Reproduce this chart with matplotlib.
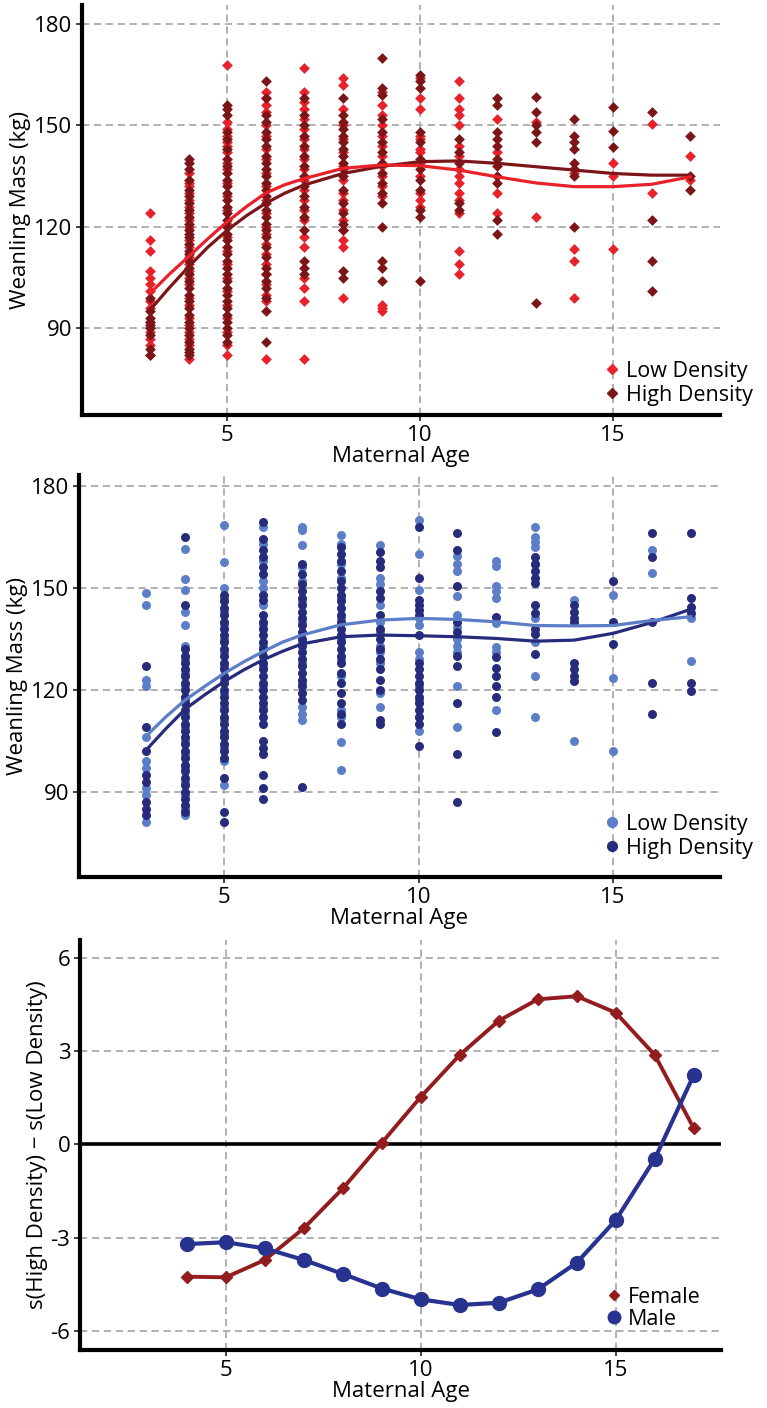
import matplotlib
matplotlib.use('Agg')
import matplotlib.pyplot as plt
from matplotlib.lines import Line2D

plt.rcParams['font.family'] = ['Open Sans', 'DejaVu Sans']
plt.rcParams['axes.unicode_minus'] = False

# ---- panel 1: females, weanling mass by maternal age ----
ages = list(range(3, 18))

fem_low = {
    3: [124, 116, 113, 107, 105, 103, 101, 98, 96, 92, 89, 87, 85, 82],
    4: [136, 133, 132, 130, 128, 126, 124, 122, 120, 116, 114, 111, 109, 107, 105, 103, 99, 97, 93, 91, 89, 87, 85, 81],
    5: [168, 151, 149, 147, 145, 144, 142, 139, 137, 133, 129, 125, 121, 117, 113, 109, 105, 101, 97, 93, 89, 85, 82],
    6: [160, 158, 156, 154, 150, 147, 143, 140, 136, 132, 128, 124, 120, 118, 115, 112, 109, 106, 103, 100, 98, 81],
    7: [167, 160, 157, 155, 152, 149, 146, 143, 140, 137, 134, 131, 128, 125, 122, 117, 114, 105, 102, 98, 81],
    8: [164, 162, 155, 150, 146, 142, 138, 134, 130, 128, 125, 122, 119, 116, 114, 99],
    9: [160, 156, 153, 150, 147, 144, 141, 138, 135, 132, 129, 97, 96, 95],
    10: [164, 158, 155, 147, 146, 143, 142, 139, 135, 130, 128, 126],
    11: [163, 158, 155, 153, 150, 144, 141, 137, 135, 133, 130, 128, 124, 113, 109, 106],
    12: [152, 142, 130, 124],
    13: [151, 123],
    14: [137, 136, 113.5, 110, 99],
    15: [139, 135, 113.5],
    16: [150.5, 130],
    17: [141, 134],
}
fem_high = {
    3: [99, 95, 93, 92, 91, 90, 88, 84, 82],
    4: [140, 139, 137, 134, 131, 129, 127, 125, 123, 121, 119, 118, 117, 115, 113, 112, 110, 108, 106, 104, 102, 100, 98, 96, 94, 92, 90, 88, 86, 84, 83, 82],
    5: [156, 155, 153, 148, 146, 143, 140, 138, 136, 134, 132, 130, 128, 126, 124, 122, 120, 118, 116, 114, 112, 110, 108, 106, 104, 102, 100, 98, 96, 94, 92, 90, 88, 86],
    6: [163, 158, 153, 151, 148, 146, 144, 141, 139, 137, 135, 133, 131, 129, 127, 125, 123, 121, 119, 117, 114, 111, 108, 106, 104, 102, 99, 95, 86],
    7: [158, 153, 150, 147, 144, 141, 138, 135, 132, 129, 126, 123, 119, 110, 108, 106],
    8: [158, 153, 151, 149, 147, 145, 143, 141, 139, 137, 135, 131, 127, 124, 121, 119, 107, 105],
    9: [170, 161, 159, 152, 148, 145, 142, 139, 136, 133, 130, 127, 120, 110, 108, 104],
    10: [165, 163, 161, 148, 145, 140, 137, 134, 131, 125, 123, 104],
    11: [146, 142, 139, 127, 125],
    12: [158, 156, 148, 146, 144, 140, 138, 135, 133, 122, 118],
    13: [158.5, 154, 150, 148, 145, 97.5],
    14: [152, 147, 145, 143, 139, 137, 135, 120],
    15: [155.5, 148.5, 143.5],
    16: [154, 122, 110, 101],
    17: [147, 135, 131],
}

# fitted curves (read at half-year steps early, yearly later)
fit_age = [3, 3.5, 4, 4.5, 5, 5.5, 6, 6.5, 7, 8, 9, 10, 11, 12, 13, 14, 15, 16, 17]
fem_low_fit = [100.3, 106, 111.2, 116.5, 121.5, 126, 130, 132.5, 134.3, 137.3, 138.3, 138.1, 136.8, 134.8, 133, 131.9, 131.9, 132.6, 134.8]
fem_high_fit = [95.4, 102, 108.2, 114, 119, 123.3, 127, 130, 132.4, 135.8, 137.9, 139.3, 139.5, 138.8, 137.8, 136.8, 135.8, 135.3, 135.3]

# ---- panel 2: males ----
male_low = {
    3: [148.5, 145, 123, 121, 106, 99, 97, 91, 89, 81],
    4: [161.5, 152.5, 149.5, 143, 139, 133, 129, 125, 121, 117, 113, 109, 105, 101, 97, 93, 89, 85, 83],
    5: [168.5, 157.5, 150, 147, 143, 139, 135, 131, 127, 123, 119, 115, 111, 107, 103, 99, 92],
    6: [168, 163, 158, 152, 150, 145, 139, 133, 127, 121, 115],
    7: [168, 167, 162.5, 156, 152, 146, 140, 134, 128, 122, 115, 113, 111],
    8: [165.5, 163, 157, 153, 147, 141, 135, 129, 124, 114, 112, 104.5, 96.5],
    9: [162.5, 153, 151, 145, 140, 137, 133, 131, 128, 119, 115],
    10: [170, 160, 149.5, 141, 139, 131, 129, 121, 117, 112, 108],
    11: [159.5, 157, 155, 147.5, 142, 138.5, 135, 133, 131, 121, 109],
    12: [158, 156.5, 150.5, 149, 147, 139.5, 132.5, 131, 114],
    13: [168, 165, 163.5, 162, 157, 141, 134, 124, 112],
    14: [146.5, 105],
    15: [148, 123.5, 102],
    16: [161, 154.5],
    17: [141, 128.5],
}
male_high = {
    3: [127, 109, 102, 95, 93, 87, 85, 83],
    4: [165, 145, 132, 130, 128, 126, 124, 122, 120, 118, 116, 114, 112, 110, 108, 106, 104, 102, 100, 98, 96, 94, 92, 90, 88, 86, 84],
    5: [148, 146, 144, 142, 140, 138, 136, 134, 132, 130, 128, 126, 124, 122, 120, 118, 116, 114, 112, 110, 108, 106, 104, 102, 100, 94, 84, 81],
    6: [169.5, 164.5, 161, 159, 156, 154, 148, 146.5, 142, 140, 138, 136, 134, 132, 130, 128, 126, 124, 122, 120, 118, 116, 114, 112, 110, 105, 103, 101, 95, 91, 88],
    7: [157, 154, 151, 149, 147, 145, 143, 141, 139, 137, 135, 133, 131, 129, 127, 125, 123, 121, 119, 117, 91.5],
    8: [162, 160, 158, 155, 152, 150, 148, 146, 144, 142, 140, 138, 136, 134, 132, 130, 128, 125, 122, 119, 116, 113, 110],
    9: [160.5, 158, 156, 149, 147, 142, 138, 135, 132, 129, 126, 123, 120, 111, 110],
    10: [168, 153, 146.5, 145, 143.5, 142, 136, 128, 126, 124, 122, 120, 118, 116, 114, 112, 110, 103.5],
    11: [166, 161, 150.5, 140, 137, 130, 127, 116, 101, 87],
    12: [141.5, 129.5, 126.5, 124, 121, 118, 107.5],
    13: [159, 157, 155, 153, 151.5, 145, 142.5, 138, 136.5, 130.5],
    14: [145, 143, 141, 140, 128, 126, 124, 122.5],
    15: [152, 140, 133.5],
    16: [166, 159, 140, 122, 113],
    17: [166, 147, 144.5, 142.5, 122, 119.5],
}
male_low_fit = [106.4, 112, 117, 121, 124.8, 128.2, 131.2, 134, 136.1, 139.1, 140.5, 141, 140.7, 140, 138.9, 138.8, 138.9, 140.4, 141.5]
male_high_fit = [102.3, 108.5, 114.3, 118.5, 122.4, 125.8, 128.8, 131.3, 133.5, 135.6, 136.1, 135.9, 135.6, 135.1, 134.3, 134.6, 136.6, 139.8, 143.7]

# ---- panel 3: difference of smooths ----
diff_age = list(range(4, 18))
diff_female = [-4.26, -4.28, -3.72, -2.70, -1.42, 0.05, 1.53, 2.88, 3.98, 4.67, 4.77, 4.24, 2.88, 0.52]
diff_male = [-3.21, -3.15, -3.35, -3.72, -4.17, -4.64, -4.99, -5.17, -5.10, -4.67, -3.81, -2.44, -0.47, 2.23]

c_flow, c_fhigh = '#e8212a', '#7c1518'
c_mlow, c_mhigh = '#5b7ec7', '#262b7c'
c_fem, c_male = '#931c1e', '#283390'

W, H = 767, 1408
fig = plt.figure(figsize=(W / 100, H / 100), dpi=100)


def add_axes(left, top, right, bottom):
    return fig.add_axes([left / W, 1 - bottom / H, (right - left) / W, (bottom - top) / H])


def style(ax, xlim, ylim, yticks):
    ax.set_xlim(*xlim)
    ax.set_ylim(*ylim)
    ax.set_xticks([5, 10, 15])
    ax.set_yticks(yticks)
    for s in ['top', 'right']:
        ax.spines[s].set_visible(False)
    for s in ['left', 'bottom']:
        ax.spines[s].set_linewidth(3)
    ax.grid(True, color='#aaaaaa', linestyle=(0, (4, 2.6)), linewidth=1.3)
    ax.set_axisbelow(True)
    ax.tick_params(direction='out', length=4, width=1.3, labelsize=16, pad=3, color='#333333')
    ax.set_xlabel('Maternal Age', fontsize=16, labelpad=0)


def scatter_groups(ax, low, high, marker, size, clow, chigh):
    for a in ages:
        ax.scatter([a] * len(low[a]), low[a], marker=marker, s=size, color=clow, linewidths=0, zorder=2)
        ax.scatter([a] * len(high[a]), high[a], marker=marker, s=size, color=chigh, linewidths=0, zorder=2)


# panel 1
ax1 = add_axes(82, 5, 720, 415)
style(ax1, (1.24, 17.77), (64.4, 185.6), [90, 120, 150, 180])
scatter_groups(ax1, fem_low, fem_high, 'D', 30, c_flow, c_fhigh)
ax1.plot(fit_age, fem_high_fit, color=c_fhigh, lw=2.3, zorder=3)
ax1.plot(fit_age, fem_low_fit, color=c_flow, lw=2.3, zorder=3)
ax1.set_ylabel('Weanling Mass (kg)', fontsize=16, labelpad=2)
h1 = [Line2D([], [], ls='none', marker='D', ms=5.5, color=c_flow),
      Line2D([], [], ls='none', marker='D', ms=5.5, color=c_fhigh)]
ax1.legend(h1, ['Low Density', 'High Density'], loc='upper left', frameon=False,
           bbox_to_anchor=(595 / W, 1 - 350 / H), bbox_transform=fig.transFigure,
           fontsize=15.5, handlelength=0.6, handletextpad=0.35, labelspacing=0.15, borderpad=0)

# panel 2
ax2 = add_axes(79, 475, 720, 877)
style(ax2, (1.27, 17.75), (64.9, 183.2), [90, 120, 150, 180])
scatter_groups(ax2, male_low, male_high, 'o', 42, c_mlow, c_mhigh)
ax2.plot(fit_age, male_high_fit, color=c_mhigh, lw=2.3, zorder=3)
ax2.plot(fit_age, male_low_fit, color=c_mlow, lw=2.3, zorder=3)
ax2.set_ylabel('Weanling Mass (kg)', fontsize=16, labelpad=2)
h2 = [Line2D([], [], ls='none', marker='o', ms=7, color=c_mlow),
      Line2D([], [], ls='none', marker='o', ms=7, color=c_mhigh)]
ax2.legend(h2, ['Low Density', 'High Density'], loc='upper left', frameon=False,
           bbox_to_anchor=(595 / W, 1 - 803 / H), bbox_transform=fig.transFigure,
           fontsize=15.5, handlelength=0.6, handletextpad=0.35, labelspacing=0.15, borderpad=0)

# panel 3
ax3 = add_axes(80, 940, 721, 1350)
style(ax3, (1.26, 17.7), (-6.62, 6.58), [-6, -3, 0, 3, 6])
ax3.axhline(0, color='black', lw=2.6, zorder=1.5)
ax3.plot(diff_age, diff_female, color=c_fem, lw=2.8, marker='D', ms=6.5, zorder=3)
ax3.plot(diff_age, diff_male, color=c_male, lw=3, marker='o', ms=10, zorder=3)
ax3.set_ylabel('s(High Density) \u2212 s(Low Density)', fontsize=16, labelpad=2)
h3 = [Line2D([], [], ls='none', marker='D', ms=5.5, color=c_fem),
      Line2D([], [], ls='none', marker='o', ms=9, color=c_male)]
ax3.legend(h3, ['Female', 'Male'], loc='upper left', frameon=False,
           bbox_to_anchor=(597 / W, 1 - 1276 / H), bbox_transform=fig.transFigure,
           fontsize=15.5, handlelength=0.6, handletextpad=0.35, labelspacing=0.05, borderpad=0)

fig.savefig('out.png', dpi=100)
